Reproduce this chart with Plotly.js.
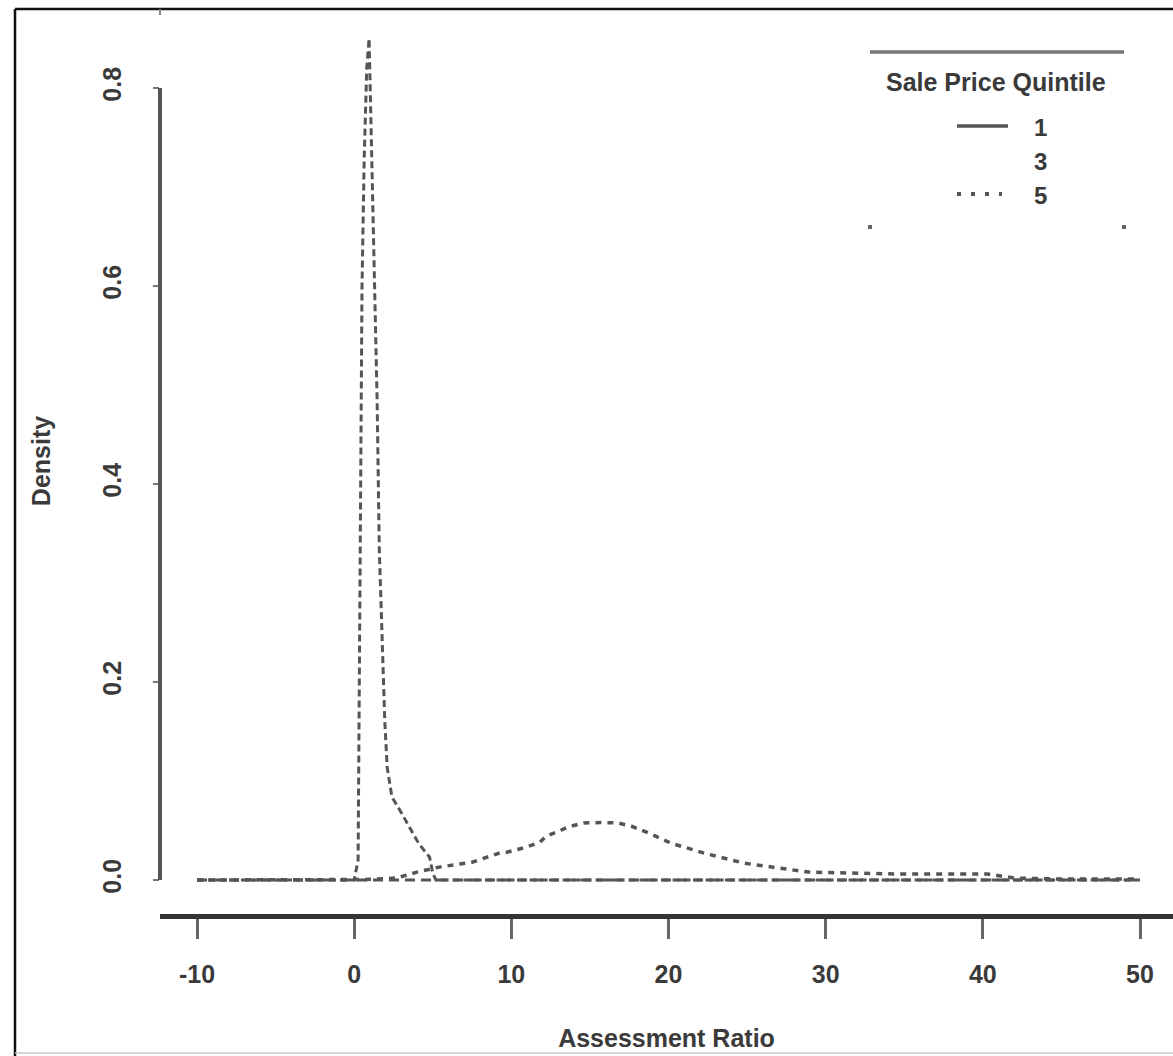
<!DOCTYPE html>
<html>
<head>
<meta charset="utf-8">
<script src="https://cdn.plot.ly/plotly-3.0.1.min.js"></script>
<style>
  html, body { margin: 0; padding: 0; background: #ffffff; }
  #chart { width: 1173px; height: 1056px; }
</style>
</head>
<body>
<div id="chart"></div>
<script>
// Kernel density estimates of the assessment ratio by sale price quintile
const quintiles = ['1', '3', '5'];

// Quintile 1: broad hump with a long right tail
const q1Ratio   = [-10, -5, 0, 0.5, 1.5, 2.7, 4, 5.4, 7.5, 9.2, 9.7, 10.9, 11.8, 12.2, 13.7, 14.6, 15.7, 16.8, 17.7, 18.8, 20.2, 22.3, 24.8, 26.2, 27.2, 28.9, 31.6, 34.6, 37.5, 40.3, 42, 45, 48, 50];
const q1Density = [0, 0, 0, 0.0005, 0.001, 0.002, 0.008, 0.013, 0.018, 0.027, 0.028, 0.033, 0.038, 0.044, 0.054, 0.0576, 0.058, 0.0576, 0.054, 0.047, 0.037, 0.027, 0.017, 0.014, 0.012, 0.008, 0.007, 0.006, 0.006, 0.006, 0.002, 0.001, 0.001, 0.001];

// Quintile 3: flat, close to zero over the whole range
const q3Ratio   = [-10, -5, 0, 5, 10, 15, 20, 25, 30, 35, 40, 45, 50];
const q3Density = [0, 0, 0, 0, 0, 0, 0, 0, 0, 0, 0, 0, 0];

// Quintile 5: sharp spike just above a ratio of 1
const q5Ratio   = [-10, -5, 0, 0.25, 0.3, 0.35, 0.45, 0.5, 0.64, 0.8, 0.95, 1.1, 1.27, 1.46, 1.6, 1.8, 1.95, 2.1, 2.4, 3.0, 3.5, 4.1, 4.8, 5.0, 5.2, 10, 20, 30, 40, 50];
const q5Density = [0, 0, 0, 0.02, 0.15, 0.3, 0.45, 0.6, 0.73, 0.82, 0.85, 0.74, 0.59, 0.485, 0.333, 0.232, 0.16, 0.114, 0.084, 0.068, 0.054, 0.037, 0.023, 0.007, 0, 0, 0, 0, 0, 0];

const xTicks = [-10, 0, 10, 20, 30, 40, 50];
const yTicks = [0, 0.2, 0.4, 0.6, 0.8];

// page geometry
const W = 1173, H = 1056;
const M = { l: 160, r: 0, t: 8, b: 142 };
const PW = W - M.l - M.r, PH = H - M.t - M.b;
const px2x = p => (p - M.l) / PW;            // pixel column -> paper x
const px2y = p => (H - M.b - p) / PH;        // pixel row -> paper y

const FONT = 'Liberation Sans, Arial, Helvetica, sans-serif';
const INK = '#3a3a3a';
const LINE = '#555555';

const traces = [
  { x: q1Ratio, y: q1Density, name: quintiles[0], mode: 'lines',
    line: { color: LINE, width: 3.5, dash: '6px,6px' } },
  { x: q3Ratio, y: q3Density, name: quintiles[1], mode: 'lines',
    line: { color: LINE, width: 3, dash: '10px,6px' } },
  { x: q5Ratio, y: q5Density, name: quintiles[2], mode: 'lines',
    line: { color: LINE, width: 3, dash: '7px,4px' } }
];

// hand-drawn legend box in the top right corner
const legTop = 52, legLeft = 870, legRight = 1124, legBottom = 227;
const legRows = [127, 162, 195];
const legStyles = ['solid', null, '4px,10px'];

const shapes = [
  // outer frame
  { type: 'line', xref: 'paper', yref: 'paper', x0: px2x(15), x1: px2x(W + 5), y0: px2y(9), y1: px2y(9),
    line: { color: '#111', width: 2.5 } },
  { type: 'line', xref: 'paper', yref: 'paper', x0: px2x(15), x1: px2x(15), y0: px2y(9), y1: px2y(H + 5),
    line: { color: '#111', width: 2.5 } },
  { type: 'line', xref: 'paper', yref: 'paper', x0: px2x(15), x1: px2x(W + 5), y0: px2y(1053), y1: px2y(1053),
    line: { color: '#c8c8c8', width: 1.5 } },
  // y axis line, drawn only between the first and last tick
  { type: 'line', xref: 'paper', yref: 'y', x0: 0, x1: 0, y0: yTicks[0], y1: yTicks[yTicks.length - 1],
    line: { color: LINE, width: 4 } },
  // small stub at the top of the y axis
  { type: 'line', xref: 'paper', yref: 'paper', x0: 0, x1: 0, y0: px2y(9), y1: px2y(15),
    line: { color: '#888', width: 2 } },
  // legend frame pieces
  { type: 'line', xref: 'paper', yref: 'paper', x0: px2x(legLeft), x1: px2x(legRight), y0: px2y(legTop), y1: px2y(legTop),
    line: { color: '#777', width: 3.5 } },
  { type: 'rect', xref: 'paper', yref: 'paper', x0: px2x(legLeft - 2), x1: px2x(legLeft + 2), y0: px2y(legBottom + 2), y1: px2y(legBottom - 2),
    fillcolor: '#666', line: { width: 0 } },
  { type: 'rect', xref: 'paper', yref: 'paper', x0: px2x(legRight - 2), x1: px2x(legRight + 2), y0: px2y(legBottom + 2), y1: px2y(legBottom - 2),
    fillcolor: '#666', line: { width: 0 } }
];

const annotations = [
  { xref: 'paper', yref: 'paper', x: px2x(996), y: px2y(82), text: 'Sale Price Quintile', showarrow: false,
    xanchor: 'center', yanchor: 'middle', font: { family: FONT, size: 25, color: INK, weight: 'bold' } }
];

quintiles.forEach((q, i) => {
  annotations.push({ xref: 'paper', yref: 'paper', x: px2x(1040), y: px2y(legRows[i]), text: q, showarrow: false,
    xanchor: 'center', yanchor: 'middle', font: { family: FONT, size: 24, color: INK, weight: 'bold' } });
  if (legStyles[i]) {
    shapes.push({ type: 'line', xref: 'paper', yref: 'paper', x0: px2x(957), x1: px2x(legStyles[i] === 'solid' ? 1008 : 1002),
      y0: px2y(legRows[i] - 1), y1: px2y(legRows[i] - 1),
      line: { color: LINE, width: legStyles[i] === 'solid' ? 3.5 : 4, dash: legStyles[i] } });
  }
});

const layout = {
  width: W, height: H,
  margin: M,
  paper_bgcolor: '#ffffff', plot_bgcolor: 'rgba(0,0,0,0)',
  showlegend: false,
  font: { family: FONT, color: INK },
  xaxis: {
    range: [-10 - 37 / 15.717, 50 + 33 / 15.717],
    tickmode: 'array', tickvals: xTicks, ticktext: xTicks.map(String),
    ticks: 'outside', ticklen: 20, tickwidth: 3, tickcolor: '#666',
    showline: true, linewidth: 5, linecolor: '#333',
    showgrid: false, zeroline: false,
    ticklabelstandoff: 14,
    tickfont: { family: FONT, size: 25, color: INK, weight: 'bold' },
    title: { text: 'Assessment Ratio', standoff: 44,
      font: { family: FONT, size: 25, color: INK, weight: 'bold' } }
  },
  yaxis: {
    range: [-34 / 990, 0.8 + 80 / 990],
    tickmode: 'array', tickvals: yTicks, ticktext: yTicks.map(v => v.toFixed(1)),
    tickangle: -90,
    ticks: 'outside', ticklen: 6, tickwidth: 2, tickcolor: '#777',
    showline: false, showgrid: false, zeroline: false,
    ticklabelstandoff: 22,
    tickfont: { family: FONT, size: 25, color: INK, weight: 'bold' },
    title: { text: 'Density', standoff: 40,
      font: { family: FONT, size: 25, color: INK, weight: 'bold' } }
  },
  shapes: shapes,
  annotations: annotations
};

Plotly.newPlot('chart', traces, layout, { staticPlot: true, displayModeBar: false });
</script>
</body>
</html>
